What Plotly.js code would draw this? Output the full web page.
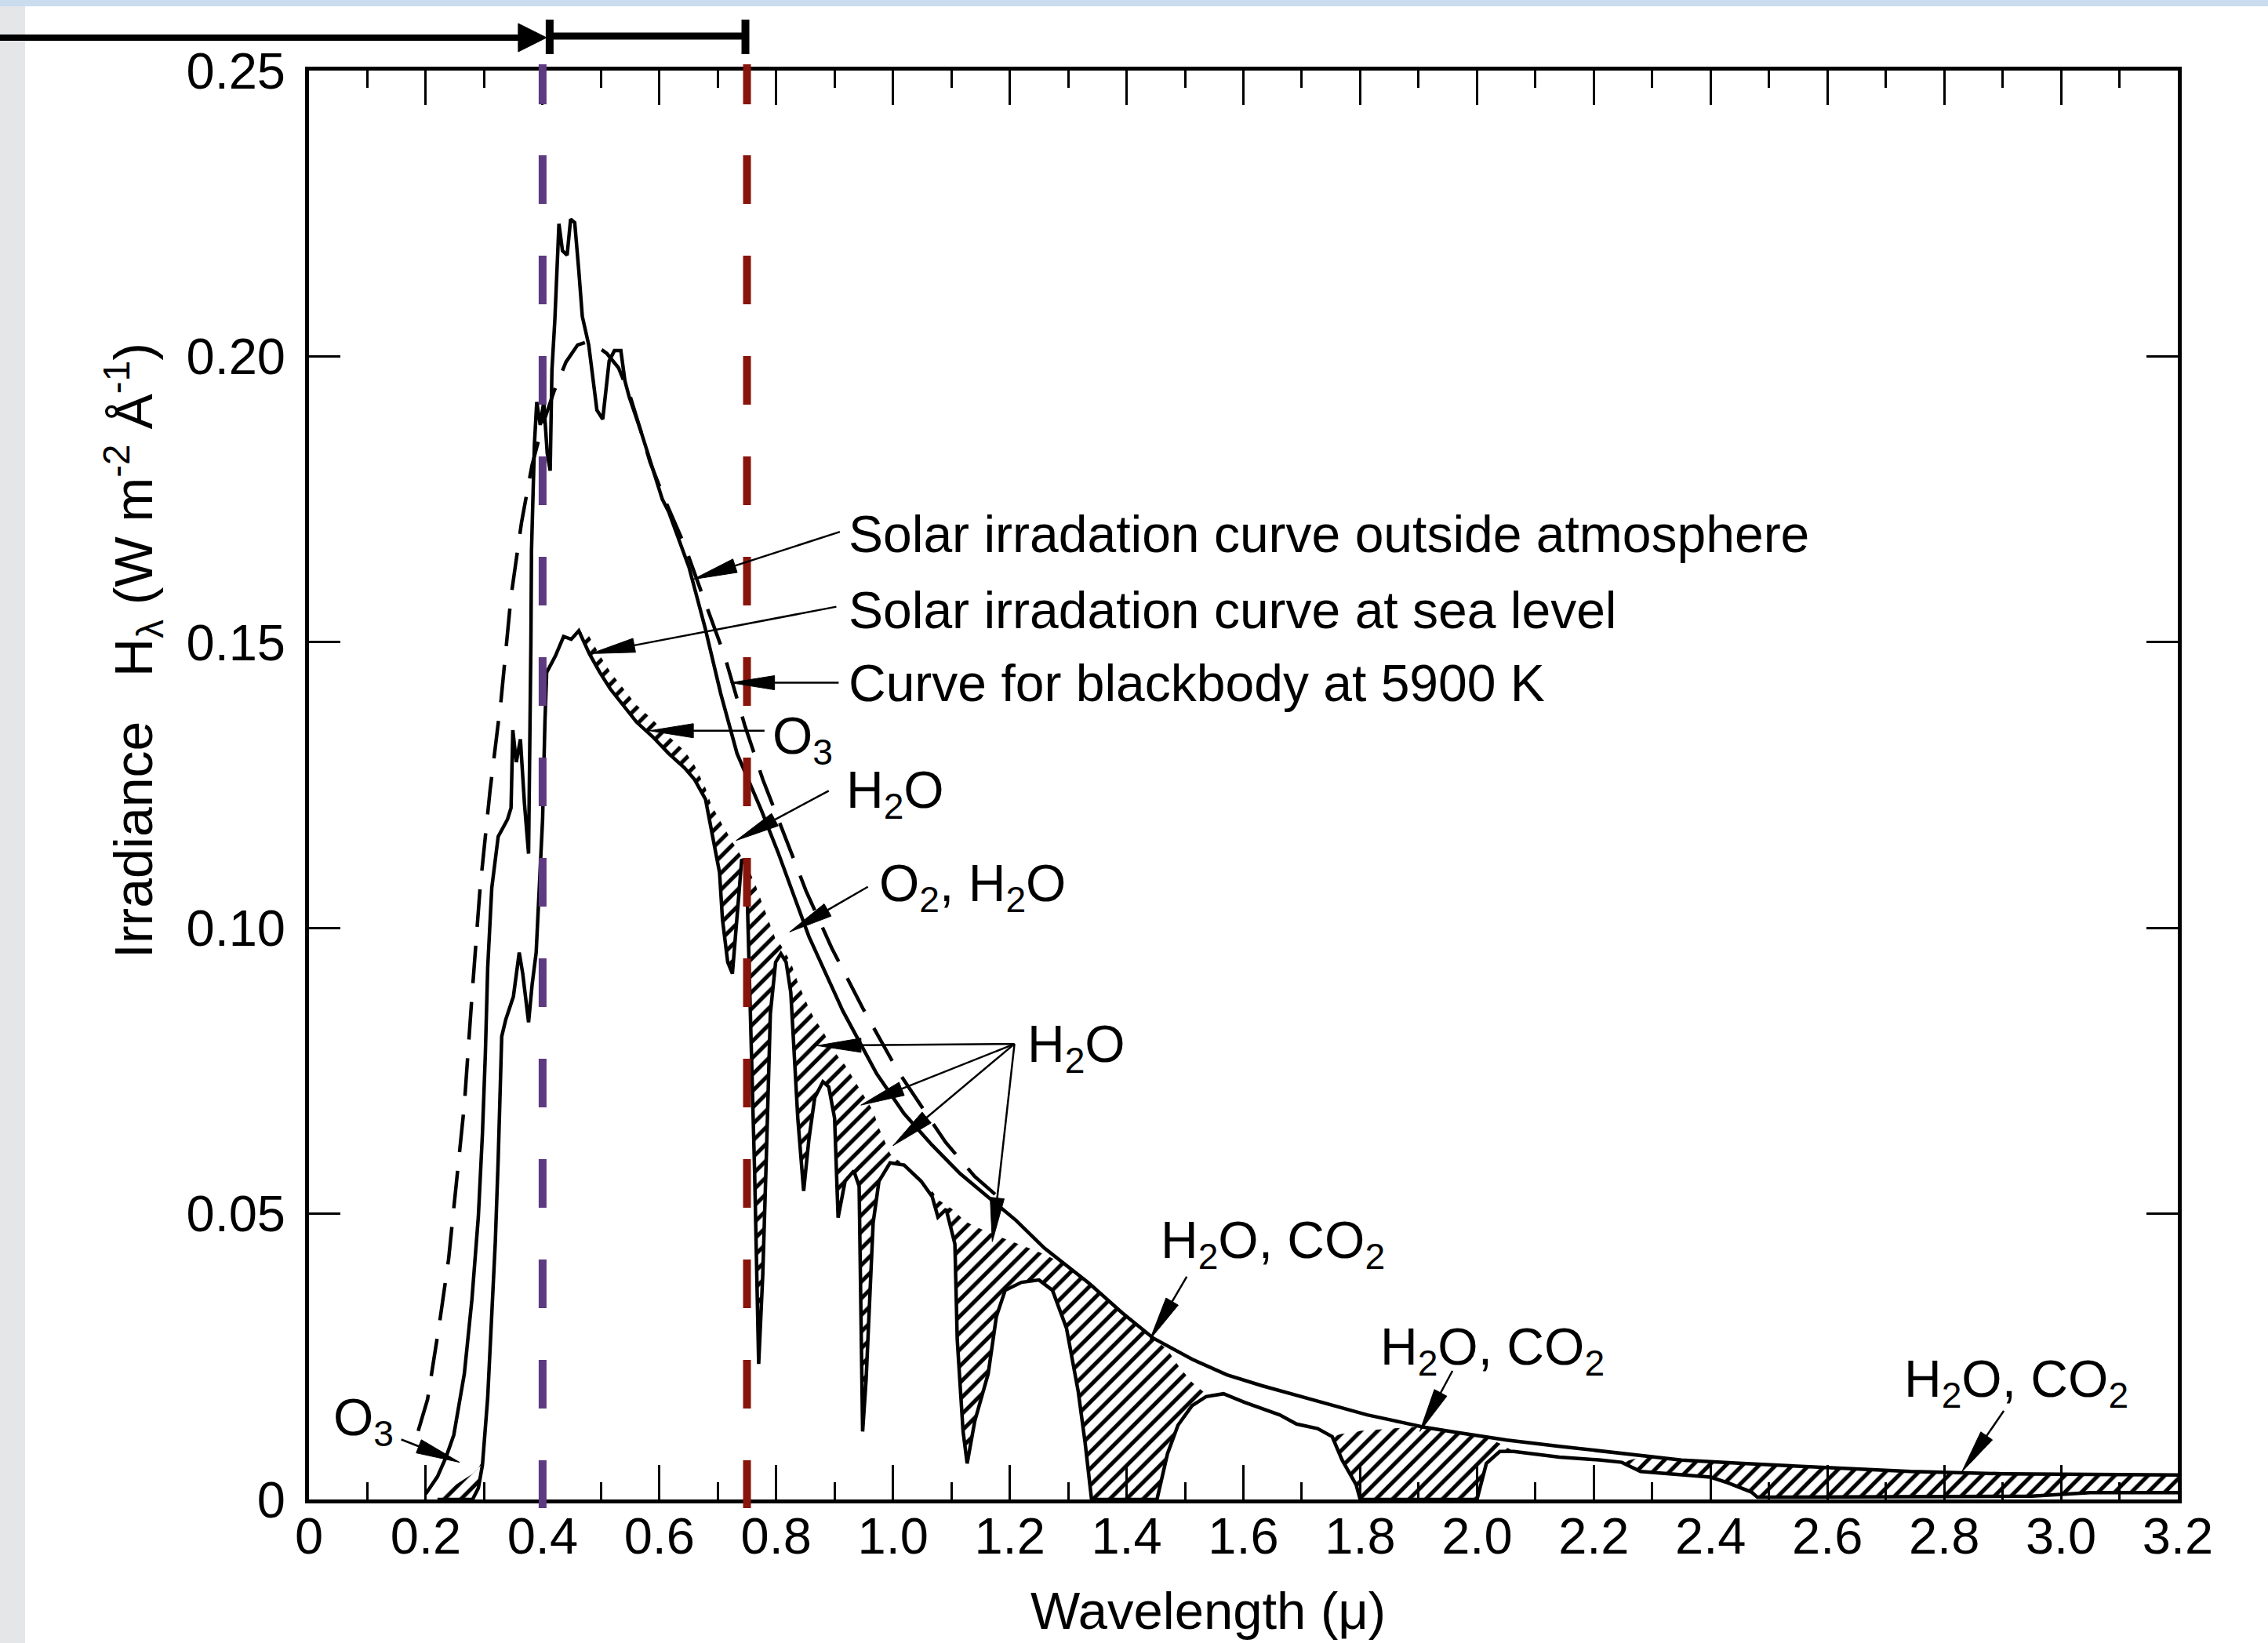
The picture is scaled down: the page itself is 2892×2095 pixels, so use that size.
<!DOCTYPE html>
<html>
<head>
<meta charset="utf-8">
<script src="https://cdn.plot.ly/plotly-3.0.1.min.js"></script>
<style>
  html, body { margin: 0; padding: 0; background: #fff; }
  #chart { width: 2892px; height: 2095px; }
</style>
</head>
<body>
<div id="chart"></div>
<script>
// ---------------------------------------------------------------
// Solar spectral irradiance H_lambda (W m^-2 A^-1) vs wavelength (micron)
// ---------------------------------------------------------------

// Solar irradiation outside the atmosphere
const outsideWavelength = [0.20, 0.22, 0.235, 0.248, 0.266, 0.279, 0.290, 0.297, 0.302, 0.306,
  0.313, 0.324, 0.340, 0.346, 0.349, 0.355, 0.362, 0.369, 0.376, 0.378,
  0.380, 0.381, 0.383, 0.386, 0.390, 0.396, 0.402, 0.408, 0.413, 0.416,
  0.421, 0.428, 0.434, 0.442, 0.448, 0.455, 0.462, 0.468, 0.479, 0.493,
  0.503, 0.514, 0.523, 0.534, 0.541, 0.548, 0.568, 0.589, 0.605, 0.616,
  0.651, 0.678, 0.705, 0.733, 0.746, 0.775, 0.804, 0.856, 0.914, 0.972,
  1.019, 1.067, 1.115, 1.163, 1.211, 1.259, 1.300, 1.336, 1.392, 1.446,
  1.513, 1.572, 1.632, 1.691, 1.752, 1.812, 1.871, 1.907, 1.961, 2.051,
  2.141, 2.248, 2.350, 2.455, 2.523, 2.626, 2.742, 2.900, 3.030, 3.200];
const outsideIrradiance = [0.001, 0.004, 0.0075, 0.0113, 0.022, 0.035, 0.0495, 0.064, 0.078, 0.093,
  0.107, 0.116, 0.119, 0.121, 0.1346, 0.129, 0.133, 0.1217, 0.113, 0.1275,
  0.150, 0.166, 0.175, 0.1846, 0.192, 0.188, 0.192, 0.183, 0.180, 0.1976,
  0.2064, 0.2232, 0.2185, 0.2177, 0.224, 0.2234, 0.215, 0.207, 0.202, 0.1906,
  0.189, 0.1992, 0.201, 0.201, 0.1957, 0.193, 0.187, 0.180, 0.175, 0.1728,
  0.163, 0.1526, 0.141, 0.1305, 0.1275, 0.1205, 0.113, 0.0985, 0.0855, 0.0745,
  0.0675, 0.0620, 0.0570, 0.0530, 0.0488, 0.0440, 0.0408, 0.0378, 0.0327, 0.0282,
  0.0245, 0.0218, 0.0199, 0.0182, 0.0164, 0.0148, 0.0135, 0.0127, 0.0118, 0.0104,
  0.0093, 0.0080, 0.0069, 0.0063, 0.0060, 0.0055, 0.0049, 0.0045, 0.0044, 0.0043];

// Blackbody at 5900 K
const blackbodyWavelength = [0.187, 0.203, 0.223, 0.239, 0.252, 0.266, 0.279, 0.293, 0.310, 0.329,
  0.346, 0.364, 0.382, 0.400, 0.420, 0.440, 0.460, 0.475, 0.490, 0.510,
  0.530, 0.550, 0.568, 0.584, 0.609, 0.643, 0.664, 0.685, 0.712, 0.746,
  0.777, 0.815, 0.851, 0.895, 0.948, 1.008, 1.050, 1.090, 1.140, 1.185];
const blackbodyIrradiance = [0.012, 0.0175, 0.0305, 0.042, 0.055, 0.069, 0.088, 0.107, 0.124, 0.140,
  0.158, 0.171, 0.181, 0.188, 0.194, 0.199, 0.202, 0.2025, 0.202, 0.2005,
  0.198, 0.193, 0.187, 0.1815, 0.175, 0.167, 0.161, 0.155, 0.1475, 0.1355,
  0.126, 0.116, 0.1065, 0.0965, 0.086, 0.075, 0.0685, 0.0625, 0.0565, 0.0525];

// Solar irradiation at sea level, and the level it would have without
// molecular absorption (top of the hatched absorption bands), on one grid
const seaLevelWavelength = [0.220, 0.250, 0.280, 0.290, 0.297, 0.306, 0.313, 0.319, 0.324, 0.328,
  0.330, 0.337, 0.350, 0.360, 0.366, 0.376, 0.382, 0.389, 0.393, 0.400,
  0.404, 0.407, 0.422, 0.436, 0.449, 0.462, 0.480, 0.498, 0.516, 0.538,
  0.561, 0.588, 0.616, 0.643, 0.660, 0.679, 0.689, 0.703, 0.708, 0.717,
  0.725, 0.732, 0.741, 0.749, 0.756, 0.763, 0.770, 0.777, 0.783, 0.790,
  0.799, 0.808, 0.817, 0.825, 0.837, 0.847, 0.856, 0.866, 0.880, 0.890,
  0.900, 0.906, 0.918, 0.933, 0.942, 0.948, 0.954, 0.966, 0.976, 0.995,
  1.019, 1.048, 1.067, 1.077, 1.091, 1.106, 1.110, 1.120, 1.127, 1.140,
  1.163, 1.177, 1.192, 1.220, 1.250, 1.273, 1.297, 1.317, 1.329, 1.340,
  1.390, 1.452, 1.470, 1.488, 1.512, 1.536, 1.566, 1.602, 1.662, 1.691,
  1.727, 1.752, 1.769, 1.793, 1.800, 1.850, 1.900, 1.950, 2.000, 2.016,
  2.039, 2.063, 2.141, 2.212, 2.248, 2.280, 2.350, 2.400, 2.430, 2.470,
  2.480, 2.600, 2.800, 2.950, 3.050, 3.200];
const seaLevelIrradiance = [0, 0, 0, 0.002, 0.006, 0.0178, 0.031, 0.045, 0.0596, 0.0726,
  0.081, 0.084, 0.088, 0.0957, 0.092, 0.0835, 0.090, 0.0957, 0.104, 0.119,
  0.136, 0.1447, 0.1476, 0.151, 0.1505, 0.152, 0.148, 0.1447, 0.1418, 0.139,
  0.136, 0.1335, 0.1305, 0.128, 0.126, 0.1225, 0.117, 0.1097, 0.1015, 0.094,
  0.092, 0.1012, 0.112, 0.111, 0.0868, 0.0575, 0.0237, 0.0393, 0.0595, 0.085,
  0.094, 0.0955, 0.094, 0.0887, 0.0667, 0.054, 0.063, 0.0703, 0.0731, 0.0722,
  0.0667, 0.0493, 0.0557, 0.0575, 0.0548, 0.0119, 0.021, 0.0484, 0.0557, 0.0589,
  0.0585, 0.0557, 0.053, 0.0494, 0.0508, 0.0447, 0.028, 0.0119, 0.0063, 0.0137,
  0.022, 0.032, 0.0366, 0.038, 0.0384, 0.0366, 0.030, 0.019, 0.0099, 0,
  0, 0, 0.008, 0.013, 0.0164, 0.018, 0.0185, 0.017, 0.0148, 0.0132,
  0.0124, 0.011, 0.0069, 0.0026, 0, 0, 0, 0, 0, 0.0063,
  0.0084, 0.0084, 0.0074, 0.0069, 0.0065, 0.0049, 0.0044, 0.0039, 0.0029, 0.0013,
  0.0004, 0.0004, 0.0005, 0.0006, 0.0012, 0.0012];
const unabsorbedIrradiance = [0, 0.0025, 0.0045, 0.0055, 0.0068, 0.0178, 0.031, 0.045, 0.0596, 0.0726,
  0.081, 0.084, 0.088, 0.0957, 0.092, 0.0835, 0.090, 0.0957, 0.104, 0.119,
  0.136, 0.1447, 0.1476, 0.151, 0.1505, 0.152, 0.151, 0.1477, 0.1448, 0.142,
  0.139, 0.1365, 0.1335, 0.131, 0.1285, 0.1245, 0.1215, 0.119, 0.118, 0.1165,
  0.115, 0.114, 0.1125, 0.111, 0.1095, 0.108, 0.106, 0.104, 0.1025, 0.1005,
  0.098, 0.097, 0.0955, 0.094, 0.0905, 0.088, 0.086, 0.084, 0.082, 0.080,
  0.0785, 0.0775, 0.076, 0.0735, 0.072, 0.071, 0.070, 0.068, 0.065, 0.0605,
  0.0585, 0.0557, 0.054, 0.0525, 0.0515, 0.0505, 0.050, 0.049, 0.0485, 0.0478,
  0.0468, 0.0462, 0.0456, 0.0445, 0.0433, 0.0422, 0.041, 0.0395, 0.0385, 0.0375,
  0.0329, 0.0278, 0.0262, 0.0235, 0.0205, 0.0185, 0.0185, 0.017, 0.0148, 0.0132,
  0.0124, 0.011, 0.0115, 0.0118, 0.012, 0.0124, 0.0127, 0.0119, 0.0112, 0.0108,
  0.0098, 0.0084, 0.0074, 0.0069, 0.0065, 0.0074, 0.0069, 0.0066, 0.0064, 0.0062,
  0.0062, 0.0056, 0.0047, 0.0045, 0.0044, 0.0043];

// Axis ticks
const xTickValues = [0, 0.2, 0.4, 0.6, 0.8, 1.0, 1.2, 1.4, 1.6, 1.8, 2.0, 2.2, 2.4, 2.6, 2.8, 3.0, 3.2];
const xTickLabels = ["0", "0.2", "0.4", "0.6", "0.8", "1.0", "1.2", "1.4", "1.6", "1.8", "2.0",
  "2.2", "2.4", "2.6", "2.8", "3.0", "3.2"];
const yTickValues = [0, 0.05, 0.10, 0.15, 0.20, 0.25];
const yTickLabels = ["0", "0.05", "0.10", "0.15", "0.20", "0.25"];

// Edges of the visible band (micron)
const visibleBandEdges = [0.4, 0.75];

// ---------------------------------------------------------------
// Page geometry
// ---------------------------------------------------------------
const W = 2892, H = 2095;
const M = { l: 394, r: 115, t: 90, b: 183 };
const PW = W - M.l - M.r, PH = H - M.t - M.b;
const X_MAX = 3.2, Y_MAX = 0.25;
const pxPerX = PW / X_MAX, pxPerY = PH / Y_MAX;
const paperX = px => (px - M.l) / PW;
const paperY = py => (H - M.b - py) / PH;
const FONT = 'Liberation Sans, Arial, Helvetica, sans-serif';
const INK = '#000';

// ---------------------------------------------------------------
// Callout labels (left edge, vertical centre) and their arrows
// ---------------------------------------------------------------
const callouts = [
  { text: 'Solar irradation curve outside atmosphere', x: 0.921, y: 0.1689 },
  { text: 'Solar irradation curve at sea level', x: 0.921, y: 0.1556 },
  { text: 'Curve for blackbody at 5900 K', x: 0.921, y: 0.1429 },
  { text: 'O<sub>3</sub>', x: 0.791, y: 0.1329 },
  { text: 'H<sub>2</sub>O', x: 0.917, y: 0.1235 },
  { text: 'O<sub>2</sub>, H<sub>2</sub>O', x: 0.973, y: 0.1072 },
  { text: 'H<sub>2</sub>O', x: 1.228, y: 0.0790 },
  { text: 'H<sub>2</sub>O, CO<sub>2</sub>', x: 1.455, y: 0.0447 },
  { text: 'H<sub>2</sub>O, CO<sub>2</sub>', x: 1.832, y: 0.0261 },
  { text: 'H<sub>2</sub>O, CO<sub>2</sub>', x: 2.729, y: 0.0204 },
  { text: 'O<sub>3</sub>', x: 0.039, y: 0.0137 }
];
// [tail x, tail y, tip x, tip y]
const calloutArrows = [
  [0.909, 0.1693, 0.658, 0.161],
  [0.903, 0.1562, 0.483, 0.148],
  [0.907, 0.1429, 0.722, 0.1429],
  [0.780, 0.1345, 0.583, 0.1345],
  [0.890, 0.124, 0.7315, 0.1153],
  [0.957, 0.1072, 0.823, 0.0993],
  [1.208, 0.0797, 0.870, 0.0794],
  [1.208, 0.0797, 0.945, 0.069],
  [1.208, 0.0797, 1.0, 0.0619],
  [1.208, 0.0797, 1.170, 0.0451],
  [1.503, 0.039, 1.44, 0.028],
  [1.958, 0.0225, 1.902, 0.0119],
  [2.902, 0.0155, 2.83, 0.0048],
  [0.158, 0.0105, 0.258, 0.0065]
];

const HEAD_LEN = 56, HEAD_HALF = 9;
const f6 = v => v.toFixed(6);

function arrowShapes(a) {
  const [tx, ty, hx, hy] = a;
  const dx = (hx - tx) * pxPerX, dy = (hy - ty) * pxPerY;
  const len = Math.hypot(dx, dy);
  const ux = dx / len, uy = dy / len;
  const L = Math.min(HEAD_LEN, len * 0.7);
  const bx = hx - ux * L / pxPerX, by = hy - uy * L / pxPerY;
  const nx = -uy * HEAD_HALF / pxPerX, ny = ux * HEAD_HALF / pxPerY;
  return [
    { type: 'line', xref: 'x', yref: 'y', x0: tx, y0: ty, x1: bx, y1: by,
      line: { color: INK, width: 2.5 } },
    { type: 'path', xref: 'x', yref: 'y',
      path: `M${f6(hx)},${f6(hy)}L${f6(bx + nx)},${f6(by + ny)}L${f6(bx - nx)},${f6(by - ny)}Z`,
      fillcolor: INK, line: { color: INK, width: 1 } }
  ];
}

// ---------------------------------------------------------------
// Shapes: page edge strips, band markers, callout arrows
// ---------------------------------------------------------------
const shapes = [];

shapes.push({ type: 'rect', xref: 'paper', yref: 'paper', x0: paperX(0), x1: paperX(32),
  y0: paperY(H), y1: paperY(8), fillcolor: '#e5e6e8', line: { width: 0 }, layer: 'above' });
shapes.push({ type: 'rect', xref: 'paper', yref: 'paper', x0: paperX(0), x1: paperX(W),
  y0: paperY(8), y1: paperY(0), fillcolor: '#cadcee', line: { width: 0 }, layer: 'above' });

// visible-band boundaries (violet / red dashed verticals)
const edgeColors = ['#5e3a80', '#88140b'];
visibleBandEdges.forEach((edge, i) => {
  shapes.push({ type: 'line', xref: 'x', yref: 'paper', x0: edge, x1: edge,
    y0: paperY(82), y1: paperY(133), line: { color: edgeColors[i], width: 10 } });
  shapes.push({ type: 'line', xref: 'x', yref: 'paper', x0: edge, x1: edge,
    y0: paperY(198), y1: paperY(1923), line: { color: edgeColors[i], width: 10, dash: '62px,66px' } });
});

// ultraviolet arrow and visible-band bracket above the frame
const edgePx = visibleBandEdges.map(e => M.l + e * pxPerX);
const barY = 47;
const leftBar = edgePx[0] + 9, rightBar = edgePx[1] - 2;
shapes.push({ type: 'line', xref: 'paper', yref: 'paper', x0: paperX(0), x1: paperX(leftBar - 36),
  y0: paperY(barY + 1), y1: paperY(barY + 1), line: { color: INK, width: 8 } });
shapes.push({ type: 'path', xref: 'paper', yref: 'paper',
  path: `M${f6(paperX(leftBar - 4))},${f6(paperY(barY + 1))}` +
        `L${f6(paperX(leftBar - 40))},${f6(paperY(barY - 17))}` +
        `L${f6(paperX(leftBar - 40))},${f6(paperY(barY + 19))}Z`,
  fillcolor: INK, line: { color: INK, width: 1 } });
[leftBar, rightBar].forEach(px => {
  shapes.push({ type: 'line', xref: 'paper', yref: 'paper', x0: paperX(px), x1: paperX(px),
    y0: paperY(barY - 22), y1: paperY(barY + 22), line: { color: INK, width: 10 } });
});
shapes.push({ type: 'line', xref: 'paper', yref: 'paper', x0: paperX(leftBar), x1: paperX(rightBar),
  y0: paperY(barY - 1), y1: paperY(barY - 1), line: { color: INK, width: 9 } });

calloutArrows.forEach(a => shapes.push(...arrowShapes(a)));

// ---------------------------------------------------------------
// Annotations
// ---------------------------------------------------------------
const annotations = callouts.map(c => ({
  text: c.text, x: c.x, y: c.y, xref: 'x', yref: 'y',
  xanchor: 'left', yanchor: 'middle', showarrow: false,
  font: { family: FONT, size: 66, color: INK }
}));
annotations.push({
  text: 'Wavelength (\u03bc)', xref: 'paper', yref: 'paper',
  x: paperX(1540), y: paperY(2053), xanchor: 'center', yanchor: 'middle',
  showarrow: false, font: { family: FONT, size: 67, color: INK }
});
annotations.push({
  text: 'Irradiance\u00a0\u00a0\u00a0H<sub>\u03bb</sub> (W m<sup>-2</sup> \u00c5<sup>-1</sup>)',
  xref: 'paper', yref: 'paper', x: paperX(170), y: paperY(830),
  xanchor: 'center', yanchor: 'middle', textangle: -90,
  showarrow: false, font: { family: FONT, size: 68, color: INK }
});

// ---------------------------------------------------------------
// Traces
// ---------------------------------------------------------------
const traces = [
  { x: seaLevelWavelength, y: unabsorbedIrradiance, mode: 'lines',
    line: { width: 0, color: 'rgba(0,0,0,0)' }, hoverinfo: 'skip' },
  { x: seaLevelWavelength, y: seaLevelIrradiance, mode: 'lines', fill: 'tonexty',
    fillcolor: 'rgba(0,0,0,0)',
    fillpattern: { shape: '/', size: 15, solidity: 0.34, fgcolor: INK, bgcolor: 'rgba(0,0,0,0)' },
    line: { color: INK, width: 4.5 } },
  { x: outsideWavelength, y: outsideIrradiance, mode: 'lines',
    line: { color: INK, width: 4.5 } },
  { x: blackbodyWavelength, y: blackbodyIrradiance, mode: 'lines',
    line: { color: INK, width: 4.5, dash: '48px,24px' } }
];

const axisCommon = {
  showgrid: false, zeroline: false, showline: true, linecolor: INK, linewidth: 5,
  mirror: 'ticks', ticks: 'inside', tickwidth: 3, tickcolor: INK,
  tickmode: 'array', tickfont: { family: FONT, size: 65, color: INK },
  fixedrange: true
};

const layout = {
  width: W, height: H,
  margin: { l: M.l, r: M.r, t: M.t, b: M.b, pad: 0 },
  paper_bgcolor: '#fff', plot_bgcolor: '#fff',
  showlegend: false,
  font: { family: FONT, color: INK, size: 62 },
  xaxis: Object.assign({}, axisCommon, {
    range: [0, X_MAX], tickvals: xTickValues, ticktext: xTickLabels,
    ticklen: 44, ticklabelstandoff: -14,
    minor: { ticks: 'inside', ticklen: 22, tickwidth: 3, tickcolor: INK,
             tick0: 0, dtick: 0.1, showgrid: false }
  }),
  yaxis: Object.assign({}, axisCommon, {
    range: [0, Y_MAX], tickvals: yTickValues, ticktext: yTickLabels,
    ticklen: 40, ticklabelstandoff: 12
  }),
  shapes: shapes,
  annotations: annotations
};

Plotly.newPlot('chart', traces, layout, { displayModeBar: false, staticPlot: true });
</script>
</body>
</html>
